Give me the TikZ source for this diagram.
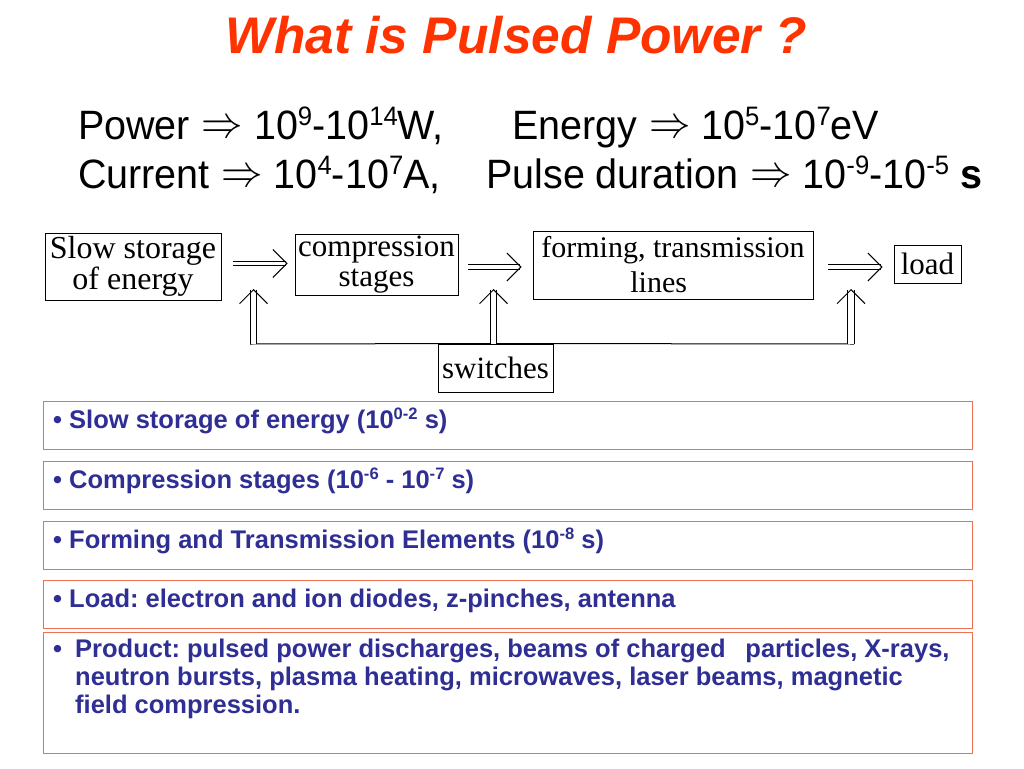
\documentclass[tikz,border=0pt]{standalone}
\usepackage{fontspec}
\setmainfont{Liberation Serif}
\newfontfamily\arial{Liberation Sans}
\newfontfamily\arialn[FakeStretch=0.963]{Liberation Sans}
\usetikzlibrary{arrows.meta,calc}
\definecolor{titlered}{RGB}{255,51,0}
\definecolor{navyblue}{RGB}{46,46,148}
\definecolor{boxorange}{RGB}{236,112,84}
\newcommand\bigimp{\hspace{1pt}\makebox[41pt][c]{\raisebox{1.5pt}{\resizebox*{41.5pt}{16.5pt}{$\Rightarrow$}}}}
\newcommand\sups[1]{\raisebox{0.32em}{\scalebox{0.65}{#1}}}
\frenchspacing
\begin{document}
\begin{tikzpicture}[x=1pt,y=-1pt,
  blk/.style={draw=black, line width=1pt, inner sep=0pt, align=center},
  dbl/.style={draw=black, double, double distance=3.6pt, line width=1pt,
    -{Straight Barb[length=14pt,width=28pt,line width=0.9pt]}},
  vdbl/.style={dbl, double distance=5.4pt},
  plain/.style={draw=black, line width=1pt},
  obox/.style={draw=boxorange, line width=1.1pt, inner sep=0pt, anchor=north west, minimum width=929.5pt},
  btxt/.style={inner sep=0pt, anchor=base west, text=navyblue, font=\arial\bfseries\fontsize{25.5}{28}\selectfont},
  hdr/.style={inner sep=0pt, anchor=base west, font=\arialn\fontsize{41}{48}\selectfont}
]
\useasboundingbox[fill=white] (0,0) rectangle (1024,768);

% title
\node[anchor=base, text=titlered, font=\arial\bfseries\itshape\fontsize{51.5}{60}\selectfont] (title) at (516,53) {What is Pulsed Power ?};

% header lines
\node[hdr] (pow) at (78,139) {Power \bigimp{} 10\sups{9}-10\sups{14}W,};
\node[hdr] (ene) at (512,139) {Energy \bigimp{} 10\sups{5}-10\sups{7}eV};
\node[hdr] (cur) at (78,188) {Current \bigimp{} 10\sups{4}-10\sups{7}A,};
\node[hdr] (pul) at (486,188) {Pulse duration \bigimp{} 10\sups{-9}-10\sups{-5} \textbf{s}};

% block diagram
\node[blk, font=\fontsize{32}{27}\selectfont, minimum width=176pt, minimum height=67pt] (b1) at (133,266.5) {Slow storage\\of energy};
\node[blk, font=\fontsize{31}{30}\selectfont, minimum width=163pt, minimum height=61pt] (b2) at (376.5,264.5) {compression\\stages};
\node[blk, align=left, font=\fontsize{30}{35}\selectfont, minimum width=280pt, minimum height=68pt] (b3) at (673,265) {forming, transmission\\\hspace*{89pt}lines};
\node[blk, font=\fontsize{31}{31}\selectfont, minimum width=67pt, minimum height=38pt] (b4) at (927.5,264) {load};
\node[blk, font=\fontsize{31}{31}\selectfont, minimum width=115pt, minimum height=48pt] (sw) at (495.5,368) {switches};

\draw[dbl] ($(b1.east)+(11,-3)$) coordinate (a1s) -- ($(b2.west |- a1s)+(-7,0)$);
\draw[dbl] ($(b2.east)+(9,2.5)$) coordinate (a2s) -- ($(b3.west |- a2s)+(-11,0)$);
\draw[dbl] ($(b3.east)+(14,2)$) coordinate (a3s) -- ($(b4.west |- a3s)+(-11,0)$);

\coordinate (h1) at (250,344);
\coordinate (h3) at (854,344);
\draw[plain] (h1) -- (sw.north) -- (h3);
\coordinate (v1) at (253.5,344); \coordinate (t1) at (253.5,289);
\coordinate (v2) at (493.5,344); \coordinate (t2) at (493.5,289);
\coordinate (v3) at (851,344);   \coordinate (t3) at (851,289);
\draw[vdbl] (v1) -- (t1);
\draw[vdbl] (v2) -- (t2);
\draw[vdbl] (v3) -- (t3);

% bottom boxes
\node[obox, minimum height=48pt] (ba) at (42.5,401) {};
\node[obox, minimum height=48pt] (bb) at (42.5,461) {};
\node[obox, minimum height=48pt] (bc) at (42.5,521) {};
\node[obox, minimum height=48pt] (bd) at (42.5,580) {};
\node[obox, minimum height=121pt] (be) at (42.5,632) {};

\node[btxt] (ta) at ([xshift=10.5pt,yshift=-27pt]ba.north west) {• Slow storage of energy (10\sups{0-2} s)};
\node[btxt] (tb) at ([xshift=10.5pt,yshift=-27pt]bb.north west) {• Compression stages (10\sups{-6} - 10\sups{-7} s)};
\node[btxt] (tc) at ([xshift=10.5pt,yshift=-27pt]bc.north west) {• Forming and Transmission Elements (10\sups{-8} s)};
\node[btxt] (td) at ([xshift=10.5pt,yshift=-27pt]bd.north west) {• Load: electron and ion diodes, z-pinches, antenna};
\node[btxt] (te) at ([xshift=10.5pt,yshift=-25pt]be.north west) {\begin{tabular}[t]{@{}l@{}}
\makebox[22pt][l]{•}Product: pulsed power discharges, beams of charged\hspace{0.5em} particles, X-rays,\\
\hspace*{22pt}neutron bursts, plasma heating, microwaves, laser beams, magnetic\\
\hspace*{22pt}field compression.
\end{tabular}};
\end{tikzpicture}
\end{document}
